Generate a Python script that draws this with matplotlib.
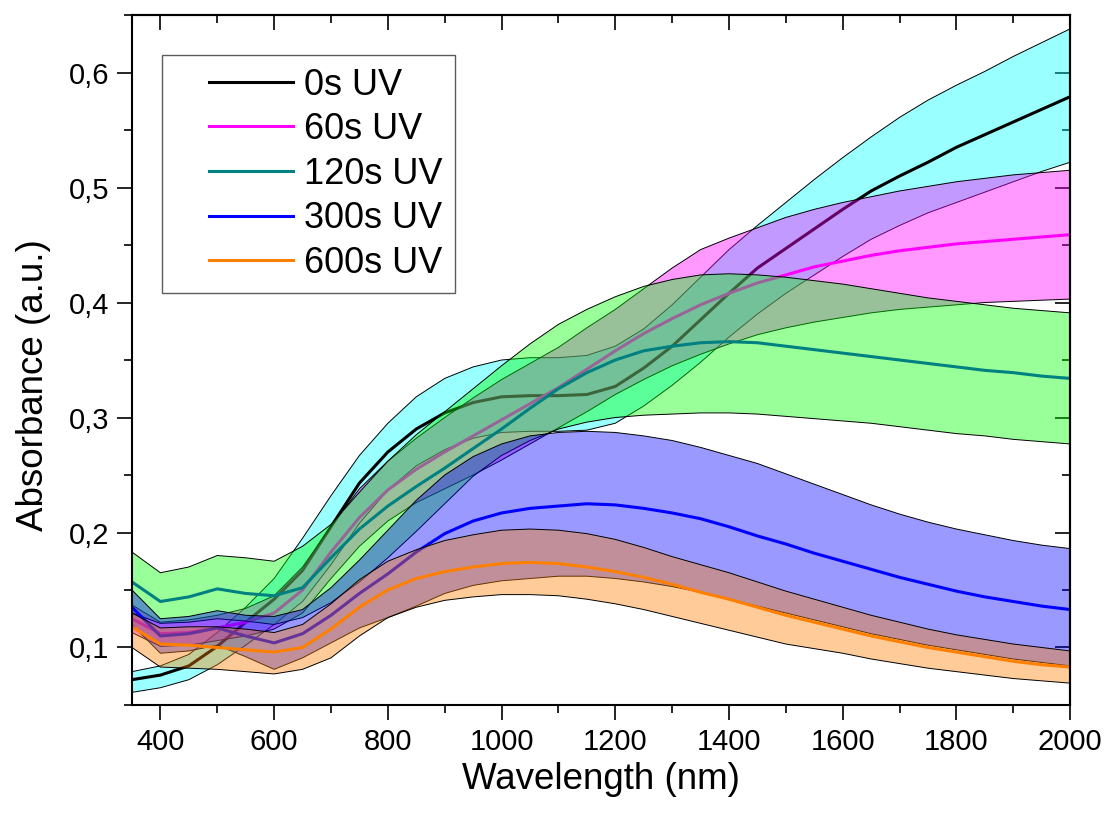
import numpy as np
import matplotlib
matplotlib.use("Agg")
import matplotlib.pyplot as plt
from matplotlib.ticker import MultipleLocator, FuncFormatter
from matplotlib.legend_handler import HandlerLine2D

plt.rcParams.update({
    "font.family": ["Liberation Sans", "DejaVu Sans"],
    "axes.linewidth": 1.5,
})

wl = [350, 400, 450, 500, 550, 600, 650, 700, 750, 800, 850, 900, 950, 1000,
      1050, 1100, 1150, 1200, 1250, 1300, 1350, 1400, 1450, 1500, 1550, 1600,
      1650, 1700, 1750, 1800, 1850, 1900, 1950, 2000]

# 0s UV
uv0_mean = [.072, .076, .084, .101, .122, .142, .167, .205, .243, .270, .290, .304, .313, .318,
            .319, .319, .320, .327, .343, .362, .385, .408, .430, .447, .464, .481,
            .497, .510, .522, .535, .546, .557, .568, .579]
uv0_hi = [.079, .084, .094, .113, .135, .160, .195, .232, .267, .295, .318, .334, .344, .350,
          .352, .352, .354, .362, .377, .398, .422, .446, .467, .487, .507, .526,
          .544, .561, .576, .589, .601, .614, .626, .638]
uv0_lo = [.061, .065, .072, .085, .102, .120, .140, .172, .208, .237, .258, .272, .282, .287,
          .288, .288, .289, .295, .310, .328, .348, .370, .390, .408, .424, .440,
          .455, .467, .478, .487, .496, .505, .514, .522]

# 60s UV
uv60_mean = [.125, .112, .113, .117, .122, .130, .150, .183, .213, .237, .255, .270, .284, .298,
             .312, .326, .342, .358, .373, .386, .398, .408, .417, .424, .431, .436,
             .441, .445, .448, .451, .453, .455, .457, .459]
uv60_hi = [.137, .122, .124, .128, .134, .145, .170, .205, .238, .262, .282, .300, .317, .333,
           .347, .361, .378, .394, .412, .430, .446, .456, .465, .474, .481, .487,
           .492, .497, .501, .505, .508, .511, .513, .515]
uv60_lo = [.113, .101, .102, .106, .110, .116, .130, .160, .188, .210, .226, .238, .250, .263,
           .277, .291, .305, .320, .333, .345, .355, .364, .372, .378, .383, .387,
           .391, .394, .396, .398, .400, .401, .402, .403]

# 120s UV
uv120_mean = [.157, .140, .144, .151, .147, .145, .152, .178, .203, .223, .240, .256, .273, .290,
              .308, .325, .339, .350, .358, .362, .365, .366, .365, .362, .359, .356,
              .353, .350, .347, .344, .341, .339, .336, .334]
uv120_hi = [.183, .165, .170, .180, .178, .175, .188, .207, .235, .262, .285, .305, .325, .345,
            .364, .381, .394, .405, .414, .420, .424, .425, .424, .422, .419, .416,
            .412, .408, .404, .401, .398, .395, .393, .391]
uv120_lo = [.130, .121, .122, .125, .123, .120, .126, .139, .157, .178, .201, .225, .249, .267,
            .280, .290, .296, .300, .302, .303, .304, .304, .303, .301, .299, .297,
            .295, .292, .289, .286, .284, .281, .279, .277]

# 300s UV
uv300_mean = [.135, .110, .112, .117, .110, .104, .112, .128, .147, .164, .183, .199, .210, .217,
              .221, .223, .225, .224, .221, .217, .212, .205, .197, .190, .182, .175,
              .168, .161, .155, .149, .144, .140, .136, .133]
uv300_hi = [.150, .125, .127, .132, .128, .127, .133, .152, .176, .202, .228, .250, .266, .277,
            .284, .287, .288, .287, .284, .280, .274, .267, .260, .251, .242, .233,
            .224, .216, .209, .203, .198, .193, .189, .186]
uv300_lo = [.120, .095, .097, .102, .092, .081, .091, .104, .117, .126, .136, .147, .154, .158,
            .160, .162, .162, .160, .157, .153, .148, .142, .136, .130, .124, .118,
            .112, .107, .102, .098, .094, .090, .087, .084]

# 600s UV
uv600_mean = [.118, .103, .102, .100, .098, .096, .100, .116, .135, .150, .160, .166, .170, .173,
              .174, .173, .170, .166, .161, .155, .148, .142, .135, .128, .122, .116,
              .110, .105, .100, .096, .092, .088, .085, .083]
uv600_hi = [.130, .117, .118, .118, .116, .113, .120, .138, .159, .175, .185, .193, .198, .202,
            .203, .202, .199, .194, .187, .179, .172, .165, .157, .149, .142, .135,
            .128, .122, .116, .111, .107, .103, .100, .097]
uv600_lo = [.100, .083, .082, .081, .079, .077, .081, .091, .110, .126, .135, .141, .144, .146,
            .146, .145, .142, .138, .133, .127, .121, .115, .109, .103, .099, .095,
            .090, .086, .082, .079, .076, .073, .071, .069]

labels = ["0s UV", "60s UV", "120s UV", "300s UV", "600s UV"]
line_cols = ["#000000", "#FF00FF", "#008080", "#0000FF", "#FF8000"]
fill_cols = ["#00FFFF", "#FF00FF", "#00FF00", "#0000FF", "#FF8000"]
means = [uv0_mean, uv60_mean, uv120_mean, uv300_mean, uv600_mean]
highs = [uv0_hi, uv60_hi, uv120_hi, uv300_hi, uv600_hi]
lows = [uv0_lo, uv60_lo, uv120_lo, uv300_lo, uv600_lo]


class GapLine(HandlerLine2D):
    # legend line drawn only on the right part of the handle box
    def create_artists(self, legend, orig_handle, xdescent, ydescent, width,
                       height, fontsize, trans):
        gap = 0.29 * width
        return super().create_artists(legend, orig_handle, xdescent - gap, ydescent,
                                      width - gap, height, fontsize, trans)


fig = plt.figure(figsize=(11.09, 8.21), dpi=100)
ax = fig.add_axes([0.119, 0.1413, 0.846, 0.8404])

handles = []
for i in range(5):
    z = 10 * i
    ax.fill_between(wl, lows[i], highs[i], facecolor=fill_cols[i], alpha=0.4,
                    edgecolor="none", zorder=z + 1)
    ax.plot(wl, lows[i], color="k", lw=0.7, zorder=z + 2)
    ax.plot(wl, highs[i], color="k", lw=0.7, zorder=z + 2)
    h, = ax.plot(wl, means[i], color=line_cols[i], lw=2.2, zorder=z + 3, label=labels[i])
    handles.append(h)

ax.set_xlim(350, 2000)
ax.set_ylim(0.05, 0.65)
ax.xaxis.set_major_locator(MultipleLocator(200))
ax.xaxis.set_minor_locator(MultipleLocator(100))
ax.yaxis.set_major_locator(MultipleLocator(0.1))
ax.yaxis.set_minor_locator(MultipleLocator(0.05))
ax.yaxis.set_major_formatter(FuncFormatter(lambda v, p: f"{v:.1f}".replace(".", ",")))
ax.tick_params(axis="both", which="major", direction="out", length=10.5, width=1.2,
               labelsize=21, pad=6)
ax.tick_params(axis="both", which="minor", direction="out", length=5.5, width=1.2)

# inward ticks on top and right, no labels
secx = ax.secondary_xaxis("top")
secx.xaxis.set_major_locator(MultipleLocator(200))
secx.xaxis.set_minor_locator(MultipleLocator(100))
secx.tick_params(which="major", direction="in", length=10.5, width=1.2, labeltop=False)
secx.tick_params(which="minor", direction="in", length=5.5, width=1.2)
secy = ax.secondary_yaxis("right")
secy.yaxis.set_major_locator(MultipleLocator(0.1))
secy.yaxis.set_minor_locator(MultipleLocator(0.05))
secy.tick_params(which="major", direction="in", length=10.5, width=1.2, labelright=False)
secy.tick_params(which="minor", direction="in", length=5.5, width=1.2)

for s in ax.spines.values():
    s.set_zorder(200)
    s.set_linewidth(1.5)

ax.set_xlabel("Wavelength (nm)", fontsize=26.5)
ax.set_ylabel("Absorbance (a.u.)", fontsize=26.5)
ax.xaxis.set_label_coords(0.5, -0.083)
ax.yaxis.set_label_coords(-0.086, 0.464)

leg = ax.legend(handles=handles, loc="upper left", bbox_to_anchor=(0.032, 0.9417),
                borderaxespad=0, fontsize=26, frameon=True, fancybox=False,
                edgecolor="#333333", handlelength=3.3, handletextpad=0.3,
                labelspacing=0.265, borderpad=0.34,
                handler_map={plt.Line2D: GapLine()})
leg.get_frame().set_linewidth(1.0)
leg.set_zorder(300)

fig.savefig("out.png", dpi=100)
